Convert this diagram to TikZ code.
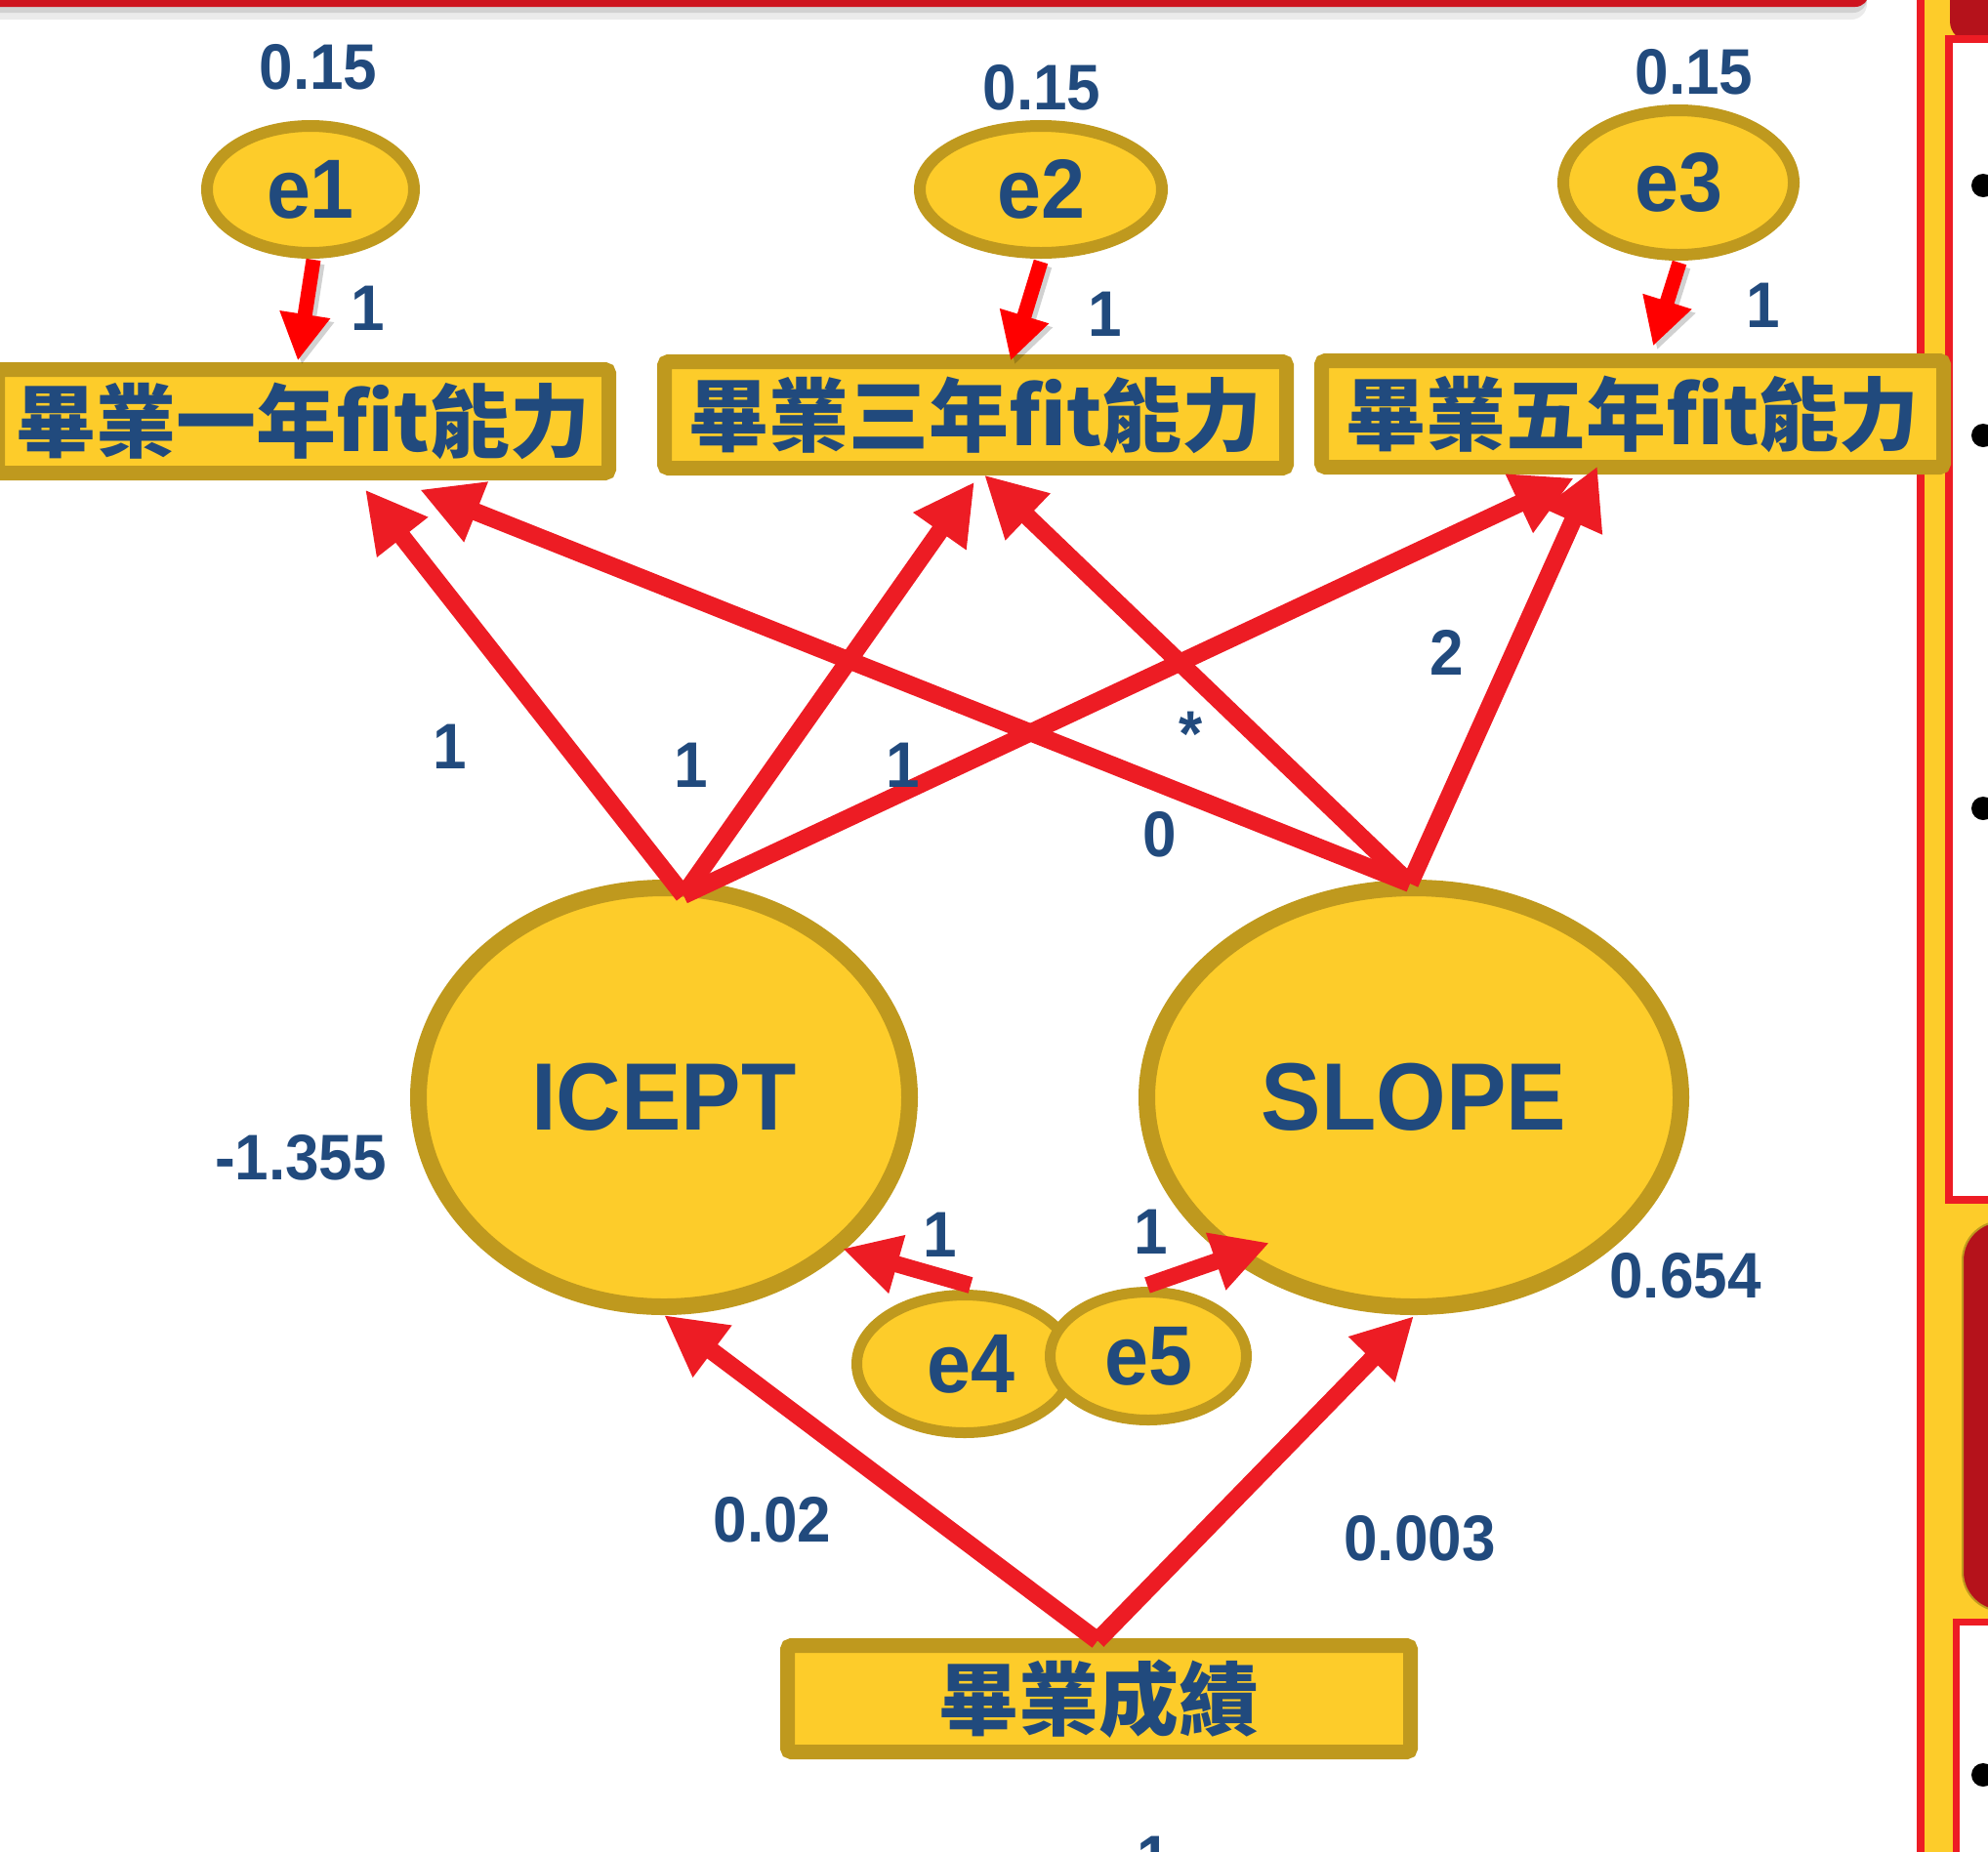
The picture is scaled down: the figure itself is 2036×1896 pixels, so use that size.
\documentclass[tikz,border=0pt]{standalone}
\usepackage{fontspec}
\setmainfont{Liberation Sans}[FakeStretch=0.94]
\newfontfamily\cjkfont{Noto Sans CJK TC}
\usetikzlibrary{arrows.meta,shapes.geometric}
\definecolor{gold}{RGB}{191,153,30}
\definecolor{yel}{RGB}{253,204,42}
\definecolor{arr}{RGB}{237,28,36}
\definecolor{txt}{RGB}{33,74,125}
\definecolor{dred}{RGB}{181,18,27}
\definecolor{topred}{RGB}{206,20,30}
\tikzset{
  box/.style={draw=gold, fill=yel, line width=15pt, rounded corners=4pt, inner sep=0pt, text=txt,
    font=\cjkfont\bfseries\fontsize{82pt}{82pt}\selectfont},
  lat/.style={shape=ellipse, draw=gold, fill=yel, line width=17pt, inner sep=0pt, text=txt,
    font=\bfseries\fontsize{98pt}{98pt}\selectfont},
  err/.style={shape=ellipse, draw=gold, fill=yel, line width=12pt, inner sep=0pt, text=txt,
    font=\bfseries\fontsize{86pt}{86pt}\selectfont},
  num/.style={text=txt, inner sep=0pt, font=\bfseries\fontsize{66pt}{66pt}\selectfont},
  link/.style={draw=arr, line width=18pt, -{Triangle[length=62pt,width=62pt]}},
  slink/.style={draw=arr, line width=17pt, -{Triangle[length=58pt,width=58pt]}},
  elink/.style={draw=red, line width=15pt, -{Triangle[length=48pt,width=49pt]}},
  eshadow/.style={draw=black, opacity=0.18, line width=15pt, -{Triangle[length=48pt,width=49pt]}}
}
\begin{document}
\begin{tikzpicture}[x=1pt,y=-1pt]
\useasboundingbox (0,0) rectangle (2036,1896);
\clip (0,0) rectangle (2036,1896);

% top bar
\fill[black!8, rounded corners=16pt] (-20,-30) rectangle (1912,20);
\fill[black!18, rounded corners=14pt] (-20,-30) rectangle (1912,13);
\fill[topred, rounded corners=14pt] (-20,-30) rectangle (1914,7);

% right panel
\fill[yel] (1971,-10) rectangle (2060,1910);
\fill[arr] (1963,-10) rectangle (1971,1910);
\fill[dred, rounded corners=20pt] (1997,-40) rectangle (2070,42);
\draw[arr, line width=8pt, fill=white] (1996,40) rectangle (2070,1229);
\draw[arr, line width=7pt, fill=white] (2003.5,1661) rectangle (2070,1930);
\draw[gold, line width=2pt, fill=dred, rounded corners=40pt] (2010,1251) rectangle (2090,1650);
\foreach \yy in {190,446,828,1818} \fill[black] (2031,\yy) circle (12pt);

% observed boxes
\node[box, minimum width=626pt, minimum height=106pt] (box1) at (310.5,431.5) {畢業一年fit能力};
\node[box, minimum width=637pt, minimum height=109pt] (box2) at (999,425) {畢業三年fit能力};
\node[box, minimum width=637pt, minimum height=109pt] (box3) at (1672,424) {畢業五年fit能力};
\node[box, minimum width=638pt, minimum height=109pt] (box4) at (1125.5,1740) {畢業成績};

% latent and error ellipses
\node[lat, minimum width=503pt, minimum height=429pt] (icept) at (680,1124) {ICEPT};
\node[lat, minimum width=547pt, minimum height=429pt] (slope) at (1448,1124) {SLOPE};
\node[err, minimum width=212pt, minimum height=130pt] (e1) at (318,194) {e1};
\node[err, minimum width=248pt, minimum height=130pt] (e2) at (1066,194) {e2};
\node[err, minimum width=236pt, minimum height=148pt] (e3) at (1719,187) {e3};
\node[err, line width=11pt, minimum width=221pt, minimum height=141pt] (e4) at (988,1397) {\hspace*{12pt}e4};
\node[err, line width=11pt, minimum width=201pt, minimum height=131pt] (e5) at (1176,1389) {e5};

% end points
\coordinate (iT) at ([shift={(20,16)}]icept.north);
\coordinate (sT) at ([shift={(-4,4)}]slope.north);

% error -> observed arrows (with soft shadow)
\draw[eshadow] ([shift={(7,5)}]e1.south) -- ([shift={(-1.5,2.5)}]box1.north);
\draw[eshadow] ([shift={(4,7)}]e2.south) -- ([shift={(40,10.5)}]box2.north);
\draw[eshadow] ([shift={(5,6)}]e3.south) -- ([shift={(25,-3.5)}]box3.north);
\draw[elink] ([shift={(3,1)}]e1.south) -- ([shift={(-5.5,-1.5)}]box1.north);
\draw[elink] ([shift={(0,3)}]e2.south) -- ([shift={(36,6.5)}]box2.north);
\draw[elink] ([shift={(1,2)}]e3.south) -- ([shift={(21,-7.5)}]box3.north);

% latent -> observed arrows
\draw[link] (iT) -- ([shift={(63.5,9.5)}]box1.south);
\draw[link] (iT) -- ([shift={(-1,6.5)}]box2.south);
\draw[link] (iT) -- ([shift={(-60,3.5)}]box3.south);
\draw[link] (sT) -- ([shift={(119.5,9.5)}]box1.south);
\draw[link] (sT) -- ([shift={(9,-0.5)}]box2.south);
\draw[link] (sT) -- ([shift={(-36,-8.5)}]box3.south);

% disturbances and covariate
\draw[slink] ([shift={(6,-4.5)}]e4.north) -- ([shift={(183,155)}]icept.center);
\draw[slink] ([shift={(-1,-1.5)}]e5.north) -- ([shift={(-148,149)}]slope.center);
\draw[link] ([shift={(-1.5,2.5)}]box4.north) -- ([shift={(0,0)}]icept.south);
\draw[link] ([shift={(-1.5,2.5)}]box4.north) -- ([shift={(0,1)}]slope.south);

% labels
\node[num] (v1) at (326,69) {0.15};
\node[num] (v2) at (1067,90) {0.15};
\node[num] (v3) at (1735,74) {0.15};
\node[num] (l1) at (377,316) {1};
\node[num] (l2) at (1132,322) {1};
\node[num] (l3) at (1806,313) {1};
\node[num] (m1) at (461,765) {1};
\node[num] (m2) at (708,784) {1};
\node[num] (m3) at (925,784) {1};
\node[num] (m4) at (1220,752) {*};
\node[num] (m5) at (1188,855) {0};
\node[num] (m6) at (1482,668) {2};
\node[num] (mi) at (308,1186) {-1.355};
\node[num] (ms) at (1726,1307) {0.654};
\node[num] (d1) at (963,1265) {1};
\node[num] (d2) at (1179,1262) {1};
\node[num] (c1) at (791,1557) {0.02};
\node[num] (c2) at (1454,1576) {0.003};
\node[num] (bt) at (1182,1904) {1};
\end{tikzpicture}
\end{document}
